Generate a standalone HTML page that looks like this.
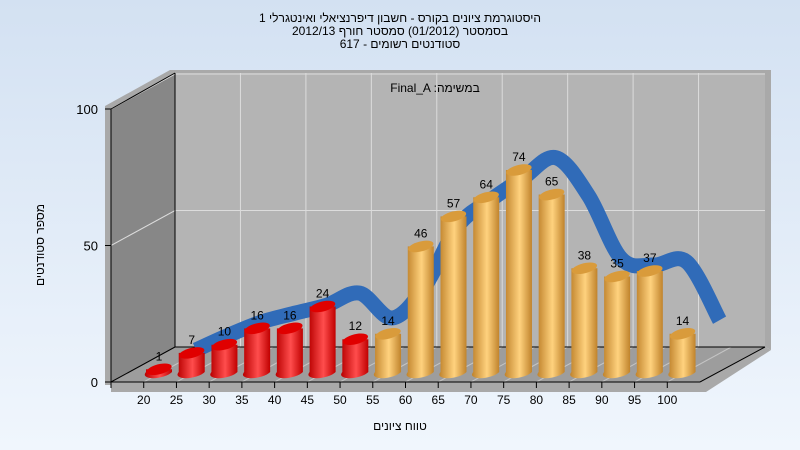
<!DOCTYPE html>
<html><head><meta charset="utf-8"><style>
body{margin:0;width:800px;height:450px;overflow:hidden;font-family:"Liberation Sans",sans-serif;}
svg{display:block}
</style></head><body>
<svg id="c" width="800" height="450">
<defs>
<linearGradient id="bg" x1="0" y1="0" x2="0" y2="1"><stop offset="0" stop-color="#d3e1f2"/><stop offset="1" stop-color="#f0f6fd"/></linearGradient>
<linearGradient id="red" x1="0" x2="1"><stop offset="0" stop-color="#b80000"/><stop offset="0.55" stop-color="#ff4d4d"/><stop offset="1" stop-color="#c00000"/></linearGradient>
<linearGradient id="org" x1="0" x2="1"><stop offset="0" stop-color="#c0832c"/><stop offset="0.55" stop-color="#ffd27e"/><stop offset="1" stop-color="#c0832c"/></linearGradient>
</defs>
<rect width="800" height="450" fill="url(#bg)"/>
<g font-size="12" fill="#000" text-anchor="middle" font-family="Liberation Sans, sans-serif">
<text x="400" y="22">היסטוגרמת ציונים בקורס - חשבון דיפרנציאלי ואינטגרלי 1</text>
<text x="400" y="35" direction="rtl" unicode-bidi="plaintext">בסמסטר  (01/2012)  סמסטר חורף 2012/13</text>
<text x="400" y="48">סטודנטים רשומים - 617</text>
</g>
<!-- frame thickness -->
<polygon points="105,106 170,70 771,70 771,350 765,347 765,73 175,73 111,109 111,385 105,385" fill="#a9a9a9"/>
<polygon points="111,382 700,382 765,347 771,350 706,392 111,392" fill="#a9a9a9"/>
<polygon points="175,73 765,73 765,347 175,347" fill="#b4b4b4"/>
<polygon points="111,109 175,73 175,347 111,382" fill="#878787"/>
<polygon points="111,382 175,347 765,347 700,382" fill="#9d9d9d"/>
<g id="grid" stroke="#dcdcdc" stroke-width="1"></g>
<g id="axes" stroke="#000" stroke-width="1" fill="none"></g>
<text x="435" y="92" font-size="12" text-anchor="middle">Final_A :במשימה</text>
<g id="ribbon"></g>
<g id="bars"></g>
<g id="labels" font-size="12" text-anchor="middle"></g>
<text transform="translate(44,245) rotate(-90)" font-size="12" text-anchor="middle">מספר סטודנטים</text>
<text x="400" y="430" font-size="12" text-anchor="middle">טווח ציונים</text>
</svg>
<script>
const categories=["20","25","30","35","40","45","50","55","60","65","70","75","80","85","90","95","100"];
const counts=[1,7,10,16,16,24,12,14,46,57,64,74,65,38,35,37,14];
const curve=[2.6,8,12.8,16,19,23.4,14.3,26,48,57.5,65.6,73,59,36,33.7,34.8,13.5];
const yTicks=[0,50,100];
const passIndex=7;
const NS="http://www.w3.org/2000/svg";
const svg=document.getElementById('c');
const step=589/18;
const xs=i=>111+step*(i+1);          // tick position on front axis
const xBar=i=>159+step*i;            // bar center
const yBar=v=>372-v*2.73;
const yFront=v=>382-v*2.73;
const xRib=i=>196+step*i;
const yRib=v=>357-v*2.73;
function mk(t,a,p){const e=document.createElementNS(NS,t);for(const k in a)e.setAttribute(k,a[k]);p.appendChild(e);return e;}
const grid=document.getElementById('grid'),axes=document.getElementById('axes');
// grid
for(let k=2;k<18;k+=2){const x=111+step*k+64;const l=mk('line',{x1:x,y1:73,x2:x,y2:347},grid);
}
yTicks.forEach(v=>{if(v===0)return;const y=yFront(v);
const l=mk('polyline',{points:`111,${y} 175,${y-35} 765,${y-35}`,fill:'none'},grid);
});
// floor grid
for(let k=1;k<18;k++){const x=111+step*k;const l=mk('line',{x1:x,y1:382,x2:x+64,y2:347,stroke:'#c4c4c4'},grid);
}
// axes
[[111,109,111,382],[175,73,175,347],[111,109,175,73],[111,382,175,347],[175,347,765,347],[111,382,700,382],[700,382,765,347],[111,382,111,388]].forEach(s=>{
const l=mk('line',{x1:s[0],y1:s[1],x2:s[2],y2:s[3]},axes);});
yTicks.forEach(v=>{const y=yFront(v);const l=mk('line',{x1:105,y1:y,x2:111,y2:y},axes);

const t=mk('text',{x:98,y:y+5,'font-size':13,'text-anchor':'end',fill:'#000',stroke:'none'},svg);t.textContent=v;
});
categories.forEach((c,i)=>{const x=xs(i);const l=mk('line',{x1:x,y1:382,x2:x,y2:388},axes);

const t=mk('text',{x:x,y:404,'font-size':12,'text-anchor':'middle'},svg);t.textContent=c;
});
// ribbon
const pts=curve.map((v,i)=>[xRib(i),yRib(v)]);
let d=`M${pts[0][0]},${pts[0][1]}`;
for(let i=0;i<pts.length-1;i++){const p0=pts[Math.max(0,i-1)],p1=pts[i],p2=pts[i+1],p3=pts[Math.min(pts.length-1,i+2)];
d+=` C${p1[0]+(p2[0]-p0[0])/6},${p1[1]+(p2[1]-p0[1])/6} ${p2[0]-(p3[0]-p1[0])/6},${p2[1]-(p3[1]-p1[1])/6} ${p2[0]},${p2[1]}`;}
const rib=mk('path',{d:d,fill:'none',stroke:'#306bb8','stroke-width':15,'stroke-linejoin':'round'},document.getElementById('ribbon'));

// bars
const bars=document.getElementById('bars'),labels=document.getElementById('labels');
counts.forEach((v,i)=>{const cx=xBar(i),yb=yBar(0),yt=yBar(v),w=13,ry=5;const red=i<passIndex;
const g=mk('g',{},bars);
mk('path',{d:`M${cx-w},${yt} L${cx-w},${yb} A${w},${ry} -12 0 0 ${cx+w},${yb} L${cx+w},${yt} Z`,fill:red?'url(#red)':'url(#org)'},g);
mk('ellipse',{cx:cx,cy:yt,rx:w,ry:ry,transform:`rotate(-14 ${cx} ${yt})`,fill:red?'#e00000':'#d99b3b'},g);
const t=mk('text',{x:cx,y:yt-9},labels);t.textContent=v;
});
</script>
</body></html>
